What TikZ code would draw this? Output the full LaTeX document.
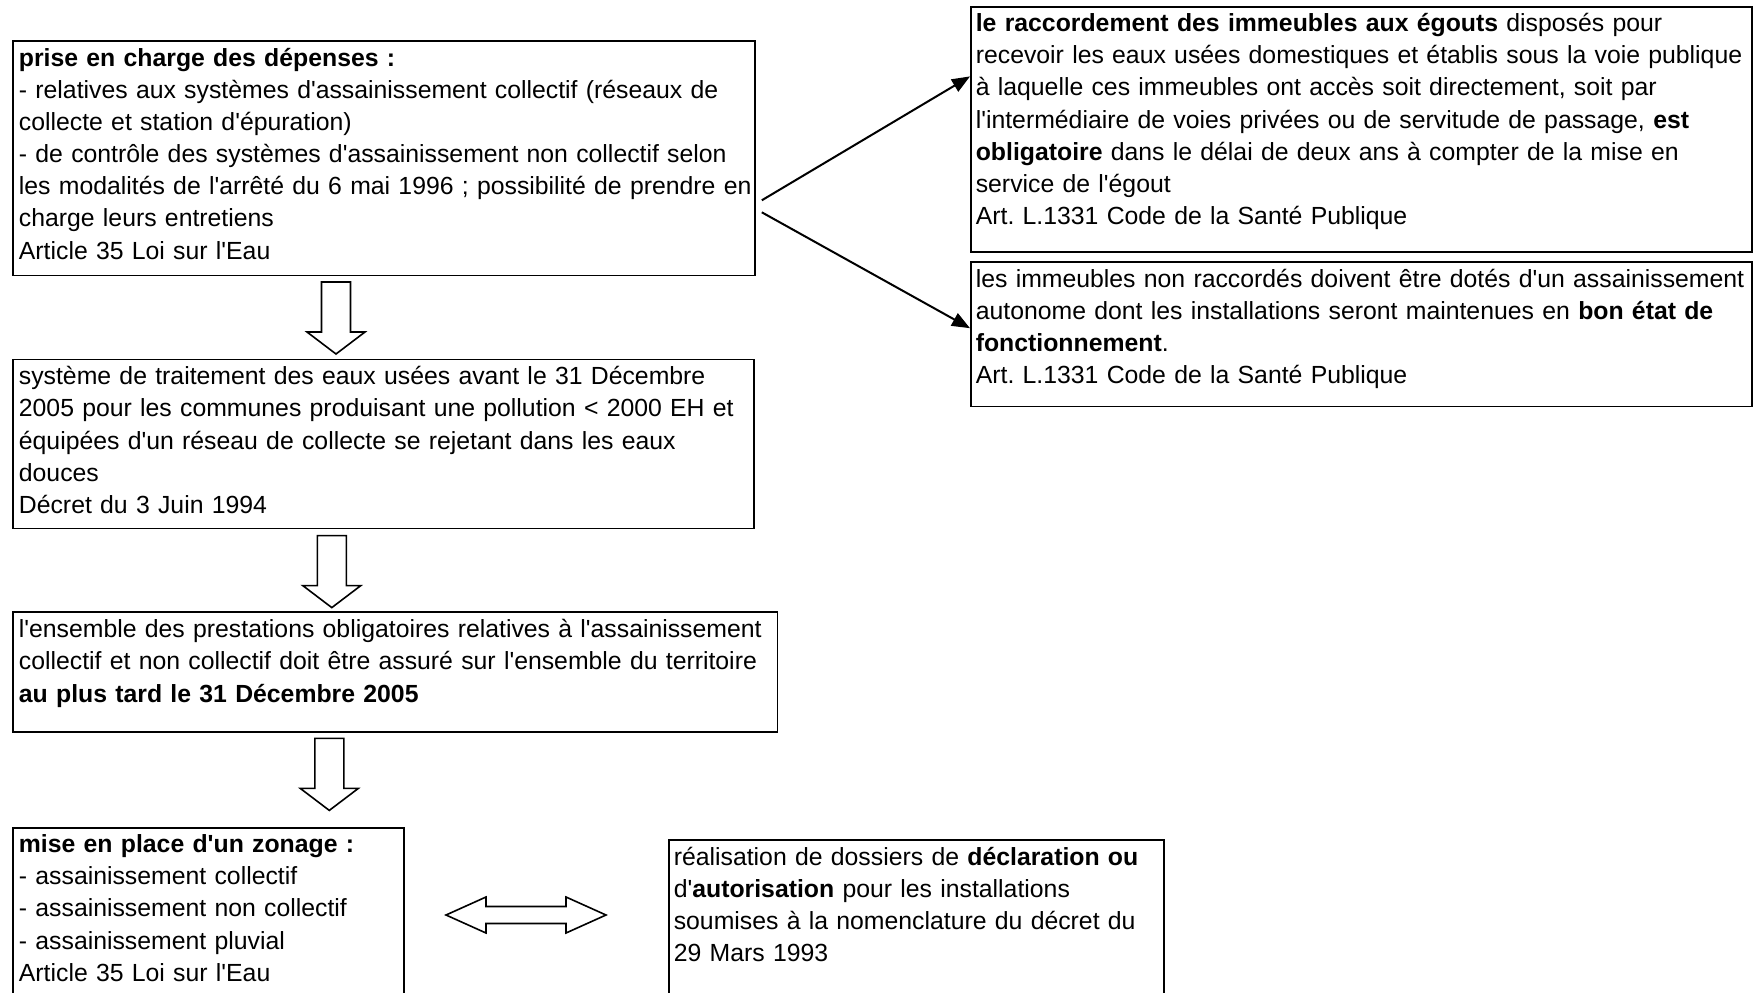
\documentclass[tikz,border=0pt]{standalone}
\usepackage{fontspec}
\setmainfont{Liberation Sans}[Ligatures=TeXOff]
\usetikzlibrary{positioning, arrows.meta, calc}
\frenchspacing

% hollow block arrow pointing down, from its top centre
\newcommand{\blockdown}[1]{%
  \draw[hollow] (#1) ++(-14.5,0) -- ++(29,0) -- ++(0,50) -- ++(14.5,0)
    -- ++(-29,22) -- ++(-29,-22) -- ++(14.5,0) -- cycle;}

\begin{document}
\begin{tikzpicture}[
    x=1pt, y=-1pt,
    frame/.style={
      draw,
      line width=1.8pt,
      anchor=north west,
      inner sep=0pt
    },
    txt/.style={
      anchor=base west,
      inner sep=0pt,
      text width=820pt,
      align=left,
      font=\fontsize{24.8}{32.2}\selectfont
    },
    link/.style={
      -{Triangle[length=18pt, width=14pt]},
      line width=2pt
    },
    hollow/.style={
      draw,
      line width=1.6pt,
      line join=miter
    }
  ]

  \path[use as bounding box, clip] (0,0) rectangle (1757,993);

  % left column
  \node[frame, minimum width=742pt, minimum height=234.5pt] (charge) at (12,40) {};
  \node[txt] (charge-txt) at ([shift={(6.7,26)}]charge.north west) {
    \textbf{prise en charge des dépenses :}\\
    - relatives aux systèmes d'assainissement collectif (réseaux de\\
    collecte et station d'épuration)\\
    - de contrôle des systèmes d'assainissement non collectif selon\\
    les modalités de l'arrêté du 6 mai 1996 ; possibilité de prendre en\\
    charge leurs entretiens\\
    Article 35 Loi sur l'Eau
  };

  \node[frame, minimum width=741pt, minimum height=169pt] (traitement) at (12,358.6) {};
  \node[txt] (traitement-txt) at ([shift={(6.7,26)}]traitement.north west) {
    système de traitement des eaux usées avant le 31 Décembre\\
    2005 pour les communes produisant une pollution < 2000 EH et\\
    équipées d'un réseau de collecte se rejetant dans les eaux\\
    douces\\
    Décret du 3 Juin 1994
  };

  \node[frame, minimum width=764.5pt, minimum height=120pt] (ensemble) at (12,610.7) {};
  \node[txt] (ensemble-txt) at ([shift={(6.7,27)}]ensemble.north west) {
    l'ensemble des prestations obligatoires relatives à l'assainissement\\
    collectif et non collectif doit être assuré sur l'ensemble du territoire\\
    \textbf{au plus tard le 31 Décembre 2005}
  };

  \node[frame, minimum width=391pt, minimum height=190pt] (zonage) at (12,827) {};
  \node[txt] (zonage-txt) at ([shift={(6.7,25.5)}]zonage.north west) {
    \textbf{mise en place d'un zonage :}\\
    - assainissement collectif\\
    - assainissement non collectif\\
    - assainissement pluvial\\
    Article 35 Loi sur l'Eau
  };

  \node[frame, minimum width=495pt, minimum height=180pt] (dossiers) at (668,839) {};
  \node[txt] (dossiers-txt) at ([shift={(5.6,26)}]dossiers.north west) {
    réalisation de dossiers de \textbf{déclaration ou}\\
    d'\textbf{autorisation} pour les installations\\
    soumises à la nomenclature du décret du\\
    29 Mars 1993
  };

  % right column
  \node[frame, minimum width=781pt, minimum height=245pt] (raccord) at (970,6) {};
  \node[txt] (raccord-txt) at ([shift={(5.6,25.5)}]raccord.north west) {
    \textbf{le raccordement des immeubles aux égouts} disposés pour\\
    recevoir les eaux usées domestiques et établis sous la voie publique\\
    à laquelle ces immeubles ont accès soit directement, soit par\\
    l'intermédiaire de voies privées ou de servitude de passage, \textbf{est}\\
    \textbf{obligatoire} dans le délai de deux ans à compter de la mise en\\
    service de l'égout\\
    Art. L.1331 Code de la Santé Publique
  };

  \node[frame, minimum width=781pt, minimum height=144.6pt] (autonome) at (970,261) {};
  \node[txt] (autonome-txt) at ([shift={(5.6,26)}]autonome.north west) {
    les immeubles non raccordés doivent être dotés d'un assainissement\\
    autonome dont les installations seront maintenues en \textbf{bon état de}\\
    \textbf{fonctionnement}.\\
    Art. L.1331 Code de la Santé Publique
  };

  % connectors
  \draw[link] ([shift={(6,-76)}]charge.south east) -- ([shift={(0,-53)}]raccord.west);
  \draw[link] ([shift={(6,-64)}]charge.south east) -- ([shift={(0,-6)}]autonome.west);

  \coordinate (flow1) at (336,282);
  \coordinate (flow2) at (331.8,535.6);
  \coordinate (flow3) at (329.3,738.4);
  \blockdown{flow1}
  \blockdown{flow2}
  \blockdown{flow3}

  \coordinate (both) at (526,915);
  \draw[hollow] (both) ++(-80,0) -- ++(40,-18) -- ++(0,9.5) -- ++(80,0)
    -- ++(0,-9.5) -- ++(40,18) -- ++(-40,18) -- ++(0,-9.5) -- ++(-80,0)
    -- ++(0,9.5) -- cycle;

\end{tikzpicture}
\end{document}
